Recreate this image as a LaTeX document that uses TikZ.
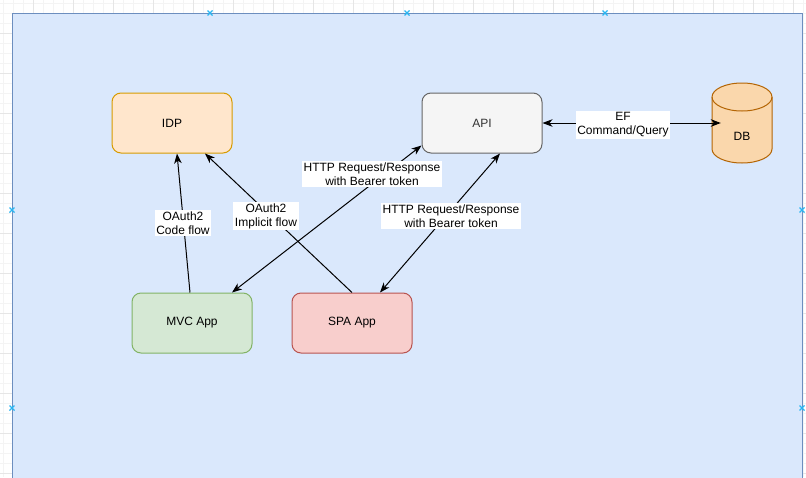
\documentclass[tikz,border=0pt]{standalone}
\usepackage{fontspec}
\setmainfont{Liberation Sans}
\usetikzlibrary{arrows.meta,calc}
\definecolor{gridminor}{HTML}{F4F4F4}
\definecolor{gridmajor}{HTML}{E6E6E6}
\definecolor{panelfill}{HTML}{DAE8FC}
\definecolor{paneldraw}{HTML}{6C8EBF}
\definecolor{handle}{HTML}{29B6F2}
\definecolor{idpfill}{HTML}{FFE6CC}
\definecolor{idpdraw}{HTML}{D79B00}
\definecolor{apifill}{HTML}{F5F5F5}
\definecolor{apidraw}{HTML}{666666}
\definecolor{apitext}{HTML}{333333}
\definecolor{dbfill}{HTML}{FAD7AC}
\definecolor{dbdraw}{HTML}{B46504}
\definecolor{mvcfill}{HTML}{D5E8D4}
\definecolor{mvcdraw}{HTML}{82B366}
\definecolor{spafill}{HTML}{F8CECC}
\definecolor{spadraw}{HTML}{B85450}
\tikzset{
  box/.style={rectangle, rounded corners=9pt, minimum width=120pt, minimum height=60pt,
    line width=1pt, font=\fontsize{12}{14}\selectfont},
  flow/.style={line width=1pt, draw=black, -{Stealth[length=10pt,width=7.5pt,inset=3pt]}},
  twoway/.style={line width=1pt, draw=black,
    {Stealth[length=10pt,width=7.5pt,inset=3pt]}-{Stealth[length=10pt,width=7.5pt,inset=3pt]}},
  lbl/.style={fill=white, inner sep=1.5pt, align=center,
    font=\fontsize{12}{14}\selectfont},
  handlemark/.style={handle, line width=1.2pt}
}
\begin{document}
\begin{tikzpicture}[x=1pt,y=-1pt]
\useasboundingbox (0,0) rectangle (806,477);
\clip (0,0) rectangle (806,477);
% canvas grid
\fill[white] (0,0) rectangle (806,477);
\foreach \g in {3,13,...,803} \draw[gridminor,line width=0.8pt] (\g,0) -- (\g,477);
\foreach \g in {3,13,...,473} \draw[gridminor,line width=0.8pt] (0,\g) -- (806,\g);
\foreach \g in {33,73,...,793} \draw[gridmajor,line width=0.8pt] (\g,0) -- (\g,477);
\foreach \g in {33,73,...,473} \draw[gridmajor,line width=0.8pt] (0,\g) -- (806,\g);
% container panel
\draw[fill=panelfill, draw=paneldraw, line width=1pt] (12,13) rectangle (802,490);
% selection handles
\foreach \p in {(210,13),(407,13),(605,13),(12,210),(12,408),(802,210),(802,408)}
  \draw[handlemark] \p ++(-2.5,-2.5) -- ++(5,5) \p ++(-2.5,2.5) -- ++(5,-5);

% nodes
\node[box, fill=idpfill, draw=idpdraw] (idp) at (172,123) {IDP};
\node[box, fill=apifill, draw=apidraw, text=apitext] (api) at (482,123) {API};
\node[box, fill=mvcfill, draw=mvcdraw] (mvc) at (192,323) {MVC App};
\node[box, fill=spafill, draw=spadraw] (spa) at (352,323) {SPA App};

% database cylinder
\node[rectangle, minimum width=60pt, minimum height=80pt, inner sep=0pt] (db) at (742,123) {};
\draw[fill=dbfill, draw=dbdraw, line width=1pt]
  (712,97) arc[start angle=180, end angle=0, x radius=30, y radius=-14]
  -- (772,149) arc[start angle=0, end angle=-180, x radius=30, y radius=-14] -- cycle;
\draw[draw=dbdraw, line width=1pt]
  (712,97) arc[start angle=180, end angle=360, x radius=30, y radius=-14];
\node[font=\fontsize{12}{14}\selectfont] at (742,136) {DB};

% connectors
\draw[flow] (mvc.north) ++(-2,0) -- ($(idp.south)+(5,0)$);
\draw[flow] (spa.north) -- ($(idp.south)+(33,0)$);
\draw[twoway] ($(mvc.north)+(40,0)$) -- ($(api.south west)+(0,-8)$);
\draw[twoway] ($(spa.north)+(28,0)$) -- ($(api.south)+(18,0)$);
\draw[twoway] (api.east) -- ($(db.west)+(9,0)$);

% connector labels
\node[lbl] (l1) at (183,223) {OAuth2\\Code flow};
\node[lbl] (l2) at (266,216) {OAuth2\\Implicit flow};
\node[lbl] (l3) at (372,174) {HTTP Request/Response\\with Bearer token};
\node[lbl] (l4) at (451,216) {HTTP Request/Response\\with Bearer token};
\node[lbl] (l5) at (623,125) {EF\\Command/Query};
\end{tikzpicture}
\end{document}
